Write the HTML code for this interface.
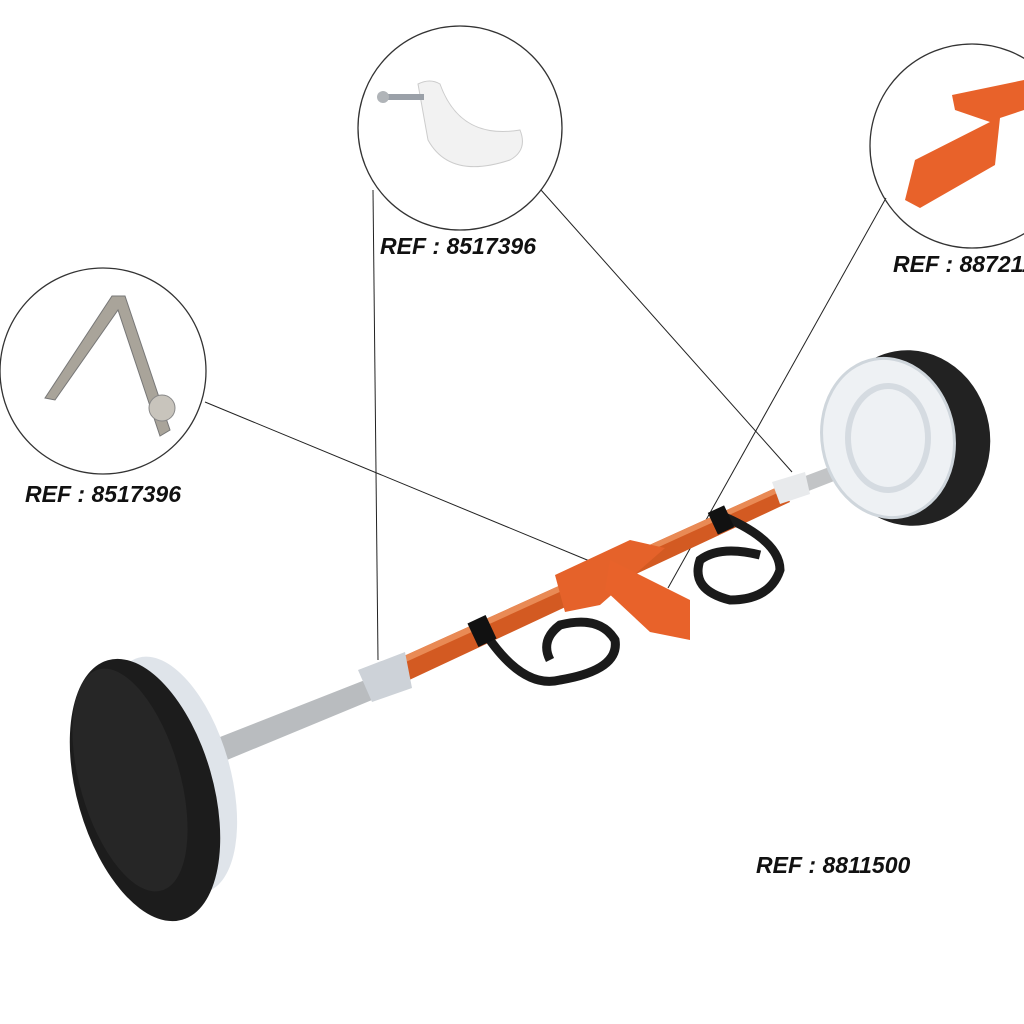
<!DOCTYPE html>
<html><head><meta charset="utf-8"><style>
html,body{margin:0;padding:0;background:#fff;}
svg{display:block}
text{font-family:"Liberation Sans",sans-serif;font-weight:bold;font-style:italic;font-size:23px;fill:#111}
</style></head><body>
<svg width="1024" height="1024" viewBox="0 0 1024 1024" xmlns="http://www.w3.org/2000/svg">
<rect width="1024" height="1024" fill="#fff"/>
<g stroke="#222" stroke-width="1">
<line x1="205" y1="402" x2="592" y2="562"/>
<line x1="373" y1="190" x2="378" y2="660"/>
<line x1="541" y1="190" x2="792" y2="472"/>
<line x1="886" y1="198" x2="668" y2="588"/>
</g>
<g fill="none" stroke="#333" stroke-width="1.3">
<circle cx="103" cy="371" r="103"/>
<circle cx="460" cy="128" r="102"/>
<circle cx="972" cy="146" r="102"/>
</g>
<path d="M45 398 L112 296 L125 296 L170 430 L160 436 L118 310 L55 400 Z" fill="#a9a49a" stroke="#777" stroke-width="1"/>
<circle cx="162" cy="408" r="13" fill="#c8c4bc" stroke="#888"/>
<path d="M418 84 Q430 78 440 84 Q460 140 520 130 Q528 150 510 160 Q450 180 428 140 Z" fill="#f2f2f2" stroke="#ccc"/>
<rect x="380" y="94" width="44" height="6" fill="#9aa0a8"/>
<circle cx="383" cy="97" r="6" fill="#b0b4b8"/>
<path d="M952 95 L1024 80 L1024 110 L1000 118 L995 165 L920 208 L905 200 L915 160 L990 122 L955 110 Z" fill="#e8622a"/>
<polygon points="192,748 365,680 372,700 198,772" fill="#b9bcbf"/>
<polygon points="395,660 782,485 790,502 405,682" fill="#d35a22"/>
<polygon points="395,660 782,485 784,490 397,666" fill="#e98a55"/>
<polygon points="800,478 885,446 888,460 806,492" fill="#c2c4c6"/>
<polygon points="358,670 405,652 412,688 372,702" fill="#cdd2d8"/>
<polygon points="772,482 805,472 810,494 780,504" fill="#e8eaec"/>
<polygon points="555,575 630,540 665,548 600,605 565,612" fill="#e5622a"/>
<polygon points="610,560 690,600 690,640 650,632 605,590" fill="#e8622a"/>
<g fill="none" stroke="#1a1a1a" stroke-width="9">
<path d="M480 625 Q520 690 560 680 Q620 670 615 640 Q600 615 560 625 Q540 640 550 660"/>
<path d="M720 515 Q780 540 780 570 Q770 600 730 600 Q690 590 700 560 Q720 545 760 555"/>
</g>
<rect x="472" y="618" width="20" height="26" fill="#111" transform="rotate(-25 482 631)"/>
<rect x="712" y="508" width="18" height="24" fill="#111" transform="rotate(-25 721 520)"/>
<ellipse cx="172" cy="775" rx="58" ry="122" fill="#dfe4ea" transform="rotate(-16 172 775)"/>
<ellipse cx="145" cy="790" rx="68" ry="135" fill="#1c1c1c" transform="rotate(-16 145 790)"/>
<ellipse cx="130" cy="780" rx="50" ry="115" fill="#262626" transform="rotate(-16 130 780)"/>
<ellipse cx="910" cy="438" rx="80" ry="88" fill="#222" transform="rotate(-10 910 438)"/>
<ellipse cx="888" cy="438" rx="66" ry="80" fill="#eef1f4" stroke="#cfd6dc" stroke-width="3" transform="rotate(-10 888 438)"/>
<ellipse cx="888" cy="438" rx="40" ry="52" fill="none" stroke="#d5dbe1" stroke-width="6"/>
<text x="25" y="502">REF : 8517396</text>
<text x="380" y="254">REF : 8517396</text>
<text x="893" y="272">REF : 8872117</text>
<text x="756" y="873">REF : 8811500</text>
</svg>
</body></html>
